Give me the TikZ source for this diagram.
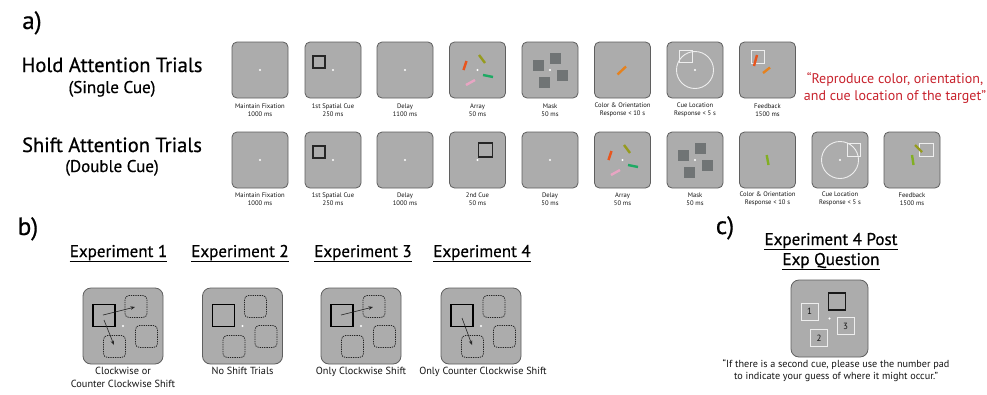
\documentclass[tikz,border=0pt]{standalone}
\usepackage{fontspec}
\setmainfont{PT Sans}
\newfontfamily\heavy[FakeBold=0.6]{PT Sans}
\usetikzlibrary{arrows.meta}
\definecolor{panelfill}{RGB}{172,172,172}
\definecolor{panelline}{RGB}{95,95,95}
\definecolor{maskgray}{RGB}{112,116,117}
\definecolor{barorange}{RGB}{232,85,30}
\definecolor{barolive}{RGB}{150,155,30}
\definecolor{bargreen}{RGB}{30,170,100}
\definecolor{barpink}{RGB}{232,165,195}
\definecolor{resporange}{RGB}{230,130,30}
\definecolor{respgreen}{RGB}{130,175,35}
\definecolor{redtext}{RGB}{200,35,45}
\definecolor{cuewhite}{RGB}{238,238,238}
\definecolor{txt}{RGB}{20,20,20}
\newcommand\fixdot{\fill[white] (0,0) circle (1.1);}
\newcommand\arraybars{%
  \draw[bar,barorange] (-11,-9) -- (-14,0);
  \draw[bar,barolive] (1.5,-15) -- (7.5,-7);
  \draw[bar,bargreen] (5.5,5) -- (15.5,7);
  \draw[bar,barpink] (-11.5,15) -- (-2.5,10);}
\newcommand\maskboxes{%
  \foreach \mx/\my in {-11.5/-4.5,5/-11.5,12/5,-6/12.5}
    {\fill[maskgray] (\mx-5.5,\my-5.5) rectangle (\mx+5.5,\my+5.5);}}
\newcommand\expinner{%
  \draw[line width=1.5pt] (-30,-21.5) rectangle (-8,0.5);
  \draw[dashedbox] (2,-30.5) rectangle (24,-8.5);
  \draw[dashedbox] (12.5,-0.5) rectangle (34.5,21.5);
  \draw[dashedbox] (-19.5,9.5) rectangle (2.5,31.5);
  \fill[white] (0,0) circle (1.2);}
\begin{document}
\begin{tikzpicture}[x=1pt,y=-1pt,
  panel/.style={draw=panelline,fill=panelfill,rounded corners=5pt,line width=0.8pt,minimum size=56pt,inner sep=0pt},
  expbox/.style={draw=panelline,fill=panelfill,rounded corners=8pt,line width=0.8pt,minimum width=80pt,minimum height=76pt,inner sep=0pt},
  lbl/.style={align=center,text=txt,font=\fontsize{6.6}{8}\selectfont,inner sep=0pt},
  bigtitle/.style={anchor=base,text=black,font=\heavy\fontsize{20.5}{24}\selectfont,inner sep=0pt},
  subtitle/.style={anchor=base,text=black,font=\heavy\fontsize{17}{20}\selectfont,inner sep=0pt},
  seclabel/.style={anchor=base,text=black,font=\heavy\fontsize{25}{28}\selectfont,inner sep=0pt},
  exptitle/.style={anchor=base,text=black,font=\heavy\fontsize{17}{20}\selectfont,inner sep=0pt},
  captxt/.style={align=center,text=txt,font=\fontsize{10.3}{13}\selectfont,inner sep=0pt},
  redline/.style={anchor=base,text=redtext,font=\fontsize{14}{17}\selectfont,inner sep=0pt},
  bar/.style={line width=2.4pt},
  cueline/.style={draw=cuewhite,line width=0.9pt},
  dashedbox/.style={draw=black!85,line width=0.8pt,dash pattern=on 1.3pt off 1pt,rounded corners=4pt},
  arr/.style={draw=black!85,line width=0.6pt,-{Stealth[length=4.5pt,width=3.5pt]}}]
\path[use as bounding box,fill=white] (0,0) rectangle (987,394);

% section labels
\node[seclabel] (la) at (32,29) {a)};
\node[seclabel] (lb) at (28,235) {b)};
\node[seclabel] (lc) at (725,234) {c)};

% row titles
\node[bigtitle] (holdt) at (112,72) {Hold Attention Trials};
\node[subtitle] (holds) at (112,93) {(Single Cue)};
\node[bigtitle] (shiftt) at (112,152) {Shift Attention Trials};
\node[subtitle] (shifts) at (112,172) {(Double Cue)};

% ---------- hold row ----------
\foreach \i/\x in {1/260,2/333,3/405,4/477.5,5/550,6/622.5,7/695,8/767.5}
  {\node[panel] (h\i) at (\x,70) {};}
\begin{scope}[shift={(h1)}]\fixdot\end{scope}
\begin{scope}[shift={(h2)}]\fixdot
  \draw[black!85,line width=1.1pt] (-20,-14) rectangle (-8,-2);\end{scope}
\begin{scope}[shift={(h3)}]\fixdot\end{scope}
\begin{scope}[shift={(h4)}]\fixdot\arraybars\end{scope}
\begin{scope}[shift={(h5)}]\maskboxes\fixdot\end{scope}
\begin{scope}[shift={(h6)}]\draw[bar,resporange] (-5,4.5) -- (3.5,-3.5);\end{scope}
\begin{scope}[shift={(h7)}]\fixdot
  \draw[cueline] (0,0) circle (18.5);
  \draw[cueline] (-16,-20) rectangle (-3,-7.5);\end{scope}
\begin{scope}[shift={(h8)}]
  \draw[cueline] (-16.5,-20) rectangle (-3,-7);
  \draw[bar,barorange] (-10.5,-15) -- (-13.5,-4);
  \draw[bar,resporange] (-4.5,3) -- (2.5,-2.5);\end{scope}

\node[lbl] (hl1) at (260,110) {Maintain Fixation\\1000 ms};
\node[lbl] (hl2) at (333,110) {1st Spatial Cue\\250 ms};
\node[lbl] (hl3) at (405,110) {Delay\\1100 ms};
\node[lbl] (hl4) at (477.5,110) {Array\\50 ms};
\node[lbl] (hl5) at (550,110) {Mask\\50 ms};
\node[lbl] (hl6) at (622.5,110) {Color \& Orientation\\Response < 10 s};
\node[lbl] (hl7) at (695,110) {Cue Location\\Response < 5 s};
\node[lbl] (hl8) at (767.5,110) {Feedback\\1500 ms};

\node[redline] (red1) at (895,83) {“Reproduce color, orientation,};
\node[redline] (red2) at (895,100) {and cue location of the target”};

% ---------- shift row ----------
\foreach \i/\x in {1/260,2/333,3/405,4/477.5,5/550,6/622.5,7/695,8/767.5,9/840,10/912}
  {\node[panel] (s\i) at (\x,160) {};}
\begin{scope}[shift={(s1)}]\fixdot\end{scope}
\begin{scope}[shift={(s2)}]\fixdot
  \draw[black!85,line width=1.1pt] (-20,-14) rectangle (-8,-2);\end{scope}
\begin{scope}[shift={(s3)}]\fixdot\end{scope}
\begin{scope}[shift={(s4)}]\fixdot
  \draw[black!85,line width=1.1pt] (1,-17) rectangle (15,-3);\end{scope}
\begin{scope}[shift={(s5)}]\fixdot\end{scope}
\begin{scope}[shift={(s6)}]\fixdot\arraybars\end{scope}
\begin{scope}[shift={(s7)}]\maskboxes\fixdot\end{scope}
\begin{scope}[shift={(s8)}]\draw[bar,respgreen] (-0.8,-5) -- (1,5);\end{scope}
\begin{scope}[shift={(s9)}]\fixdot
  \draw[cueline] (0,0) circle (18.5);
  \draw[cueline] (7,-17) rectangle (20,-4);\end{scope}
\begin{scope}[shift={(s10)}]
  \draw[cueline] (7,-17) rectangle (21,-4);
  \draw[bar,barolive] (3,-15) -- (10,-8);
  \draw[bar,respgreen] (0,-5) -- (1.5,5);\end{scope}

\node[lbl] (sl1) at (260,199) {Maintain Fixation\\1000 ms};
\node[lbl] (sl2) at (333,199) {1st Spatial Cue\\250 ms};
\node[lbl] (sl3) at (405,199) {Delay\\1000 ms};
\node[lbl] (sl4) at (477.5,199) {2nd Cue\\50 ms};
\node[lbl] (sl5) at (550,199) {Delay\\50 ms};
\node[lbl] (sl6) at (622.5,199) {Array\\50 ms};
\node[lbl] (sl7) at (695,199) {Mask\\50 ms};
\node[lbl] (sl8) at (767.5,199) {Color \& Orientation\\Response < 10 s};
\node[lbl] (sl9) at (840,199) {Cue Location\\Response < 5 s};
\node[lbl] (sl10) at (912,199) {Feedback\\1500 ms};

% ---------- panel b ----------
\foreach \i/\x in {1/118.5,2/240,3/363,4/482}
  {\node[exptitle] (et\i) at (\x,257) {Experiment \i};
   \draw[line width=1pt] ([yshift=-4.5pt]et\i.base west) -- ([yshift=-4.5pt]et\i.base east);}
\foreach \i/\x in {1/123,2/242.5,3/361,4/481}
  {\node[expbox] (eb\i) at (\x,326) {};}
\begin{scope}[shift={(eb1)}]\expinner
  \coordinate (e1s) at (-20,-11); \coordinate (e1t) at (12,-19);
  \coordinate (e1u) at (-19,-6); \coordinate (e1b) at (-9,19);
  \draw[arr] (e1s) -- (e1t); \draw[arr] (e1u) -- (e1b);\end{scope}
\begin{scope}[shift={(eb2)}]\expinner\end{scope}
\begin{scope}[shift={(eb3)}]\expinner
  \coordinate (e3s) at (-20,-11); \coordinate (e3t) at (12,-19);
  \draw[arr] (e3s) -- (e3t);\end{scope}
\begin{scope}[shift={(eb4)}]\expinner
  \coordinate (e4u) at (-19,-8); \coordinate (e4b) at (-9,19);
  \draw[arr] (e4u) -- (e4b);\end{scope}

\node[captxt,anchor=north] (ec1) at (123,367) {Clockwise or\\Counter Clockwise Shift};
\node[captxt,anchor=north] (ec2) at (242.5,367) {No Shift Trials};
\node[captxt,anchor=north] (ec3) at (361,367) {Only Clockwise Shift};
\node[captxt,anchor=north] (ec4) at (483,367) {Only Counter Clockwise Shift};

% ---------- panel c ----------
\node[exptitle] (ct1) at (831,245) {Experiment 4 Post};
\draw[line width=1pt] ([yshift=-4pt]ct1.base west) -- ([yshift=-4pt]ct1.base east);
\node[exptitle] (ct2) at (831,265) {Exp Question};
\draw[line width=1pt] ([yshift=-4pt]ct2.base west) -- ([yshift=-4pt]ct2.base east);
\node[expbox,minimum width=77pt,minimum height=77pt] (cb) at (829.5,318.5) {};
\begin{scope}[shift={(cb)}]
  \fill[white] (0,0) circle (1.2);
  \draw[black!90,line width=1.3pt] (-1,-25.5) rectangle (16,-8.5);
  \draw[cueline,line width=1pt] (-28.5,-15.5) rectangle (-11.5,1.5);
  \draw[cueline,line width=1pt] (7.5,-1) rectangle (24.5,16);
  \draw[cueline,line width=1pt] (-19,11) rectangle (-2,28);
  \node[text=txt,font=\fontsize{9}{10}\selectfont] (n1) at (-20,-7) {1};
  \node[text=txt,font=\fontsize{9}{10}\selectfont] (n3) at (16,7.5) {3};
  \node[text=txt,font=\fontsize{9}{10}\selectfont] (n2) at (-10.5,19.5) {2};
\end{scope}
\node[captxt,font=\fontsize{10.2}{12.5}\selectfont,anchor=north] (cq) at (836,359) {“If there is a second cue, please use the number pad\\to indicate your guess of where it might occur.”};
\end{tikzpicture}
\end{document}
